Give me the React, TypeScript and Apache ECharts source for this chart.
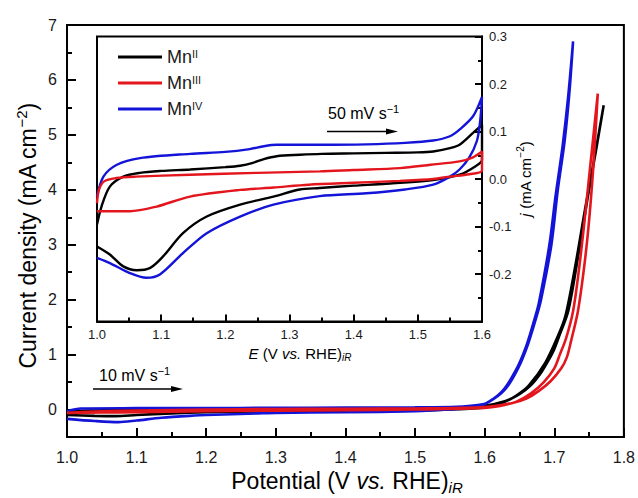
import React, { useEffect, useRef } from "react";
import * as echarts from "echarts";

const F = "Liberation Sans, Arial, sans-serif";
const TXT = "#1a1a1a";

const seriesNames = ["MnII", "MnIII", "MnIV"];
const seriesColors = ["#000000", "#e3161d", "#1414d8"];
const legendLabels: Record<string, string> = { MnII: "Mn{s|II}", MnIII: "Mn{s|III}", MnIV: "Mn{s|IV}" };

const mainYTicks = [0, 1, 2, 3, 4, 5, 6, 7];
const mainYMinorTicks = [-0.5, 0.5, 1.5, 2.5, 3.5, 4.5, 5.5, 6.5];

// Main CV (10 mV/s): [potential V, current mA cm-2], forward then reverse sweep
const mainMnII: [number, number][] = [
  [1.0, -0.05], [1.03, -0.02], [1.06, -0.01], [1.1, 0.0], [1.2, 0.005], [1.3, 0.01], [1.4, 0.015], [1.5, 0.02],
  [1.56, 0.035], [1.6, 0.07], [1.629, 0.15], [1.65, 0.28], [1.667, 0.45], [1.68, 0.65], [1.691, 0.88], [1.7, 1.1],
  [1.708, 1.37], [1.72, 1.79], [1.734, 2.77], [1.748, 3.86], [1.76, 4.72], [1.771, 5.54],
  [1.758, 4.6], [1.745, 3.7], [1.73, 2.6], [1.716, 1.7], [1.704, 1.3], [1.687, 0.85], [1.663, 0.43], [1.645, 0.25],
  [1.625, 0.12], [1.6, 0.04], [1.55, 0.0], [1.5, -0.02], [1.4, -0.025], [1.3, -0.03], [1.2, -0.05], [1.15, -0.07],
  [1.1, -0.1], [1.07, -0.12], [1.04, -0.115], [1.0, -0.1],
];
const mainMnIII: [number, number][] = [
  [1.0, -0.06], [1.05, -0.03], [1.1, -0.02], [1.2, 0.0], [1.3, 0.01], [1.4, 0.015], [1.5, 0.02], [1.6, 0.045],
  [1.64, 0.12], [1.66, 0.2], [1.677, 0.33], [1.695, 0.52], [1.71, 0.75], [1.718, 0.95], [1.724, 1.24], [1.734, 1.79],
  [1.742, 2.5], [1.749, 3.3], [1.756, 4.4], [1.7625, 5.75],
  [1.752, 4.47], [1.743, 3.38], [1.735, 2.5], [1.727, 1.79], [1.717, 1.3], [1.708, 1.0], [1.7, 0.75], [1.685, 0.5],
  [1.667, 0.3], [1.645, 0.14], [1.62, 0.06], [1.6, 0.03], [1.5, 0.0], [1.4, -0.01], [1.3, -0.02], [1.2, -0.03],
  [1.1, -0.05], [1.05, -0.055], [1.0, -0.06],
];
const mainMnIV: [number, number][] = [
  [1.0, -0.03], [1.02, 0.02], [1.1, 0.025], [1.2, 0.028], [1.3, 0.03], [1.4, 0.035], [1.5, 0.04], [1.56, 0.05],
  [1.59, 0.08], [1.605, 0.13], [1.629, 0.36], [1.648, 0.75], [1.662, 1.18], [1.674, 1.67], [1.681, 2.0], [1.696, 3.01],
  [1.705, 3.99], [1.715, 4.9], [1.722, 5.81], [1.727, 6.7],
  [1.72, 5.7], [1.712, 4.8], [1.702, 3.9], [1.693, 3.0], [1.678, 1.95], [1.671, 1.62], [1.659, 1.13], [1.645, 0.72],
  [1.625, 0.33], [1.6, 0.1], [1.58, 0.03], [1.55, 0.0], [1.5, -0.03], [1.4, -0.05], [1.3, -0.06], [1.274, -0.07],
  [1.2, -0.1], [1.183, -0.11], [1.136, -0.15], [1.1, -0.2], [1.074, -0.23], [1.04, -0.21], [1.0, -0.17],
];

// Inset CV (50 mV/s): [E V, j mA cm-2]
const insetMnII: [number, number][] = [
  [1.0, -0.096], [1.007, -0.058], [1.02, -0.016], [1.041, 0.005], [1.067, 0.013], [1.1, 0.017], [1.145, 0.02],
  [1.2, 0.025], [1.223, 0.028], [1.243, 0.034], [1.26, 0.042], [1.28, 0.048], [1.316, 0.051], [1.35, 0.053], [1.4, 0.054],
  [1.45, 0.055], [1.5, 0.056], [1.524, 0.058], [1.55, 0.065], [1.565, 0.072], [1.586, 0.097], [1.6, 0.114],
  [1.6, 0.04], [1.59, 0.027], [1.565, 0.009], [1.524, -0.002], [1.45, -0.01], [1.4, -0.014], [1.347, -0.019],
  [1.316, -0.022], [1.275, -0.037], [1.223, -0.054], [1.171, -0.079], [1.134, -0.114], [1.103, -0.163],
  [1.083, -0.187], [1.062, -0.192], [1.041, -0.184], [1.02, -0.159], [1.0, -0.142],
];
const insetMnIII: [number, number][] = [
  [1.0, -0.051], [1.003, -0.023], [1.011, -0.005], [1.03, 0.002], [1.06, 0.005], [1.145, 0.009], [1.25, 0.013],
  [1.347, 0.016], [1.4, 0.019], [1.472, 0.023], [1.52, 0.03], [1.565, 0.037], [1.585, 0.045], [1.6, 0.058],
  [1.6, 0.018], [1.58, 0.01], [1.55, 0.005], [1.524, 0.0], [1.472, -0.004], [1.4, -0.008], [1.33, -0.012],
  [1.275, -0.018], [1.223, -0.023], [1.145, -0.037], [1.093, -0.058], [1.051, -0.068], [1.0, -0.068],
];
const insetMnIV: [number, number][] = [
  [1.0, -0.037], [1.01, 0.005], [1.031, 0.03], [1.067, 0.044], [1.145, 0.053], [1.2, 0.057], [1.238, 0.063],
  [1.26, 0.069], [1.28, 0.072], [1.347, 0.072], [1.42, 0.073], [1.48, 0.076], [1.524, 0.081], [1.55, 0.09], [1.565, 0.104],
  [1.586, 0.132], [1.6, 0.173],
  [1.597, 0.12], [1.592, 0.08], [1.58, 0.045], [1.565, 0.02], [1.55, 0.005], [1.524, -0.012], [1.48, -0.022],
  [1.42, -0.03], [1.347, -0.036], [1.275, -0.054], [1.223, -0.079], [1.171, -0.114], [1.134, -0.156],
  [1.098, -0.201], [1.077, -0.208], [1.051, -0.198], [1.02, -0.177], [1.0, -0.166],
];

const mainData = [mainMnII, mainMnIII, mainMnIV];
const insetData = [insetMnII, insetMnIII, insetMnIV];

const richBig = {
  a: { fontSize: 23, fontFamily: F, color: TXT, lineHeight: 28 },
  i: { fontSize: 23, fontFamily: F, color: TXT, fontStyle: "italic", lineHeight: 28 },
  sub: { fontSize: 15, fontFamily: F, color: TXT, fontStyle: "italic", verticalAlign: "bottom" },
  sup: { fontSize: 15, fontFamily: F, color: TXT, verticalAlign: "top" },
};
const richSmall = {
  a: { fontSize: 15, fontFamily: F, color: TXT, lineHeight: 19 },
  i: { fontSize: 15, fontFamily: F, color: TXT, fontStyle: "italic", lineHeight: 19 },
  sub: { fontSize: 10, fontFamily: F, color: TXT, fontStyle: "italic", verticalAlign: "bottom" },
  sup: { fontSize: 10, fontFamily: F, color: TXT, verticalAlign: "top" },
};
const richNote = {
  a: { fontSize: 16, fontFamily: F, color: TXT, lineHeight: 20 },
  sup: { fontSize: 11, fontFamily: F, color: TXT, verticalAlign: "top" },
};

function arrow(x1: number, x2: number, y: number) {
  return [
    { type: "line", shape: { x1, y1: y, x2: x2 - 8, y2: y }, style: { stroke: "#000", lineWidth: 1.4 } },
    { type: "polygon", shape: { points: [[x2, y], [x2 - 12, y - 3], [x2 - 12, y + 3]] }, style: { fill: "#000" } },
  ];
}

export default function App() {
  const ref = useRef<HTMLDivElement>(null);
  useEffect(() => {
    if (!ref.current) return;
    const chart = echarts.init(ref.current, undefined, { renderer: "svg" });
    const axisLine = { show: true, onZero: false, lineStyle: { color: "#000", width: 2 } };
    const series: any[] = [];
    const order = [0, 2, 1];
    order.forEach((k) => {
      series.push({
        name: seriesNames[k], type: "line", xAxisIndex: 0, yAxisIndex: 0, data: mainData[k],
        showSymbol: false, symbol: "none", smooth: 0.3, color: seriesColors[k],
        lineStyle: { width: 2.6, color: seriesColors[k] },
      });
    });
    order.forEach((k) => {
      series.push({
        name: seriesNames[k], type: "line", xAxisIndex: 1, yAxisIndex: 2, data: insetData[k],
        showSymbol: false, symbol: "none", smooth: 0.3, color: seriesColors[k],
        lineStyle: { width: 2.4, color: seriesColors[k] },
      });
    });
    chart.setOption({
      animation: false,
      backgroundColor: "#fff",
      grid: [
        { left: 67, top: 25, width: 559, height: 412, show: true, borderColor: "#000", borderWidth: 2, backgroundColor: "transparent" },
        { left: 97, top: 36.5, width: 385, height: 285, show: true, borderColor: "#000", borderWidth: 2, backgroundColor: "#fff" },
      ],
      legend: {
        data: seriesNames, orient: "vertical", left: 113, top: 43, itemWidth: 44, itemHeight: 3, itemGap: 8,
        icon: "rect", formatter: (n: string) => legendLabels[n],
        textStyle: {
          fontSize: 18, fontFamily: F, color: TXT,
          rich: { s: { fontSize: 11, fontFamily: F, color: TXT, verticalAlign: "top" } },
        },
      },
      xAxis: [
        {
          gridIndex: 0, type: "value", min: 1.0, max: 1.8, interval: 0.1, axisLine,
          axisTick: { inside: true, length: 9, lineStyle: { color: "#000", width: 2 } },
          minorTick: { show: true, splitNumber: 2, length: 5, lineStyle: { color: "#000", width: 2 } },
          axisLabel: { formatter: (v: number) => v.toFixed(1), fontSize: 16, fontFamily: F, color: TXT, margin: 12 },
          splitLine: { show: false }, minorSplitLine: { show: false },
        },
        {
          gridIndex: 1, type: "value", min: 1.0, max: 1.6, interval: 0.1, axisLine,
          axisTick: { inside: true, length: 7, lineStyle: { color: "#000", width: 2 } },
          minorTick: { show: true, splitNumber: 2, length: 4, lineStyle: { color: "#000", width: 2 } },
          axisLabel: { formatter: (v: number) => v.toFixed(1), fontSize: 13, fontFamily: F, color: TXT, margin: 6 },
          splitLine: { show: false },
        },
      ],
      yAxis: [
        {
          gridIndex: 0, type: "value", position: "left", min: -0.5, max: 7, interval: 0.5, axisLine,
          axisTick: { inside: true, length: 9, lineStyle: { color: "#000", width: 2 }, customValues: mainYTicks },
          axisLabel: {
            customValues: mainYTicks, fontSize: 16, fontFamily: F, color: TXT, margin: 10,
            formatter: (v: number) => (Number.isInteger(v) ? String(v) : ""),
          },
          splitLine: { show: false },
        },
        {
          gridIndex: 0, type: "value", position: "left", min: -0.5, max: 7, interval: 0.5,
          axisLine: { show: false, onZero: false },
          axisTick: { inside: true, length: 5, lineStyle: { color: "#000", width: 2 }, customValues: mainYMinorTicks },
          axisLabel: { show: false }, splitLine: { show: false },
        },
        {
          gridIndex: 1, type: "value", position: "right", min: -0.3, max: 0.3, interval: 0.1, axisLine,
          axisTick: { inside: true, length: 7, lineStyle: { color: "#000", width: 2 } },
          minorTick: { show: true, splitNumber: 2, length: 4, lineStyle: { color: "#000", width: 2 } },
          axisLabel: {
            fontSize: 13, fontFamily: F, color: TXT, margin: 7,
            formatter: (v: number) => (Math.abs(v + 0.3) < 1e-6 ? "" : v.toFixed(1)),
          },
          splitLine: { show: false },
        },
      ],
      graphic: [
        {
          type: "text", x: 347, y: 481,
          style: { text: "{a|Potential (V }{i|vs.}{a| RHE)}{sub|iR}", rich: richBig, align: "center", verticalAlign: "middle" },
        },
        {
          type: "text", x: 28, y: 236, rotation: Math.PI / 2,
          style: { text: "{a|Current density (mA cm}{sup|−2}{a|)}", rich: richBig, align: "center", verticalAlign: "middle" },
        },
        {
          type: "text", x: 300, y: 353,
          style: { text: "{i|E}{a| (V }{i|vs.}{a| RHE)}{sub|iR}", rich: richSmall, align: "center", verticalAlign: "middle" },
        },
        {
          type: "text", x: 525, y: 179, rotation: Math.PI / 2,
          style: { text: "{i|j}{a| (mA cm}{sup|−2}{a|)}", rich: richSmall, align: "center", verticalAlign: "middle" },
        },
        {
          type: "text", x: 99, y: 375,
          style: { text: "{a|10 mV s}{sup|−1}", rich: richNote, align: "left", verticalAlign: "middle" },
        },
        {
          type: "text", x: 328, y: 113,
          style: { text: "{a|50 mV s}{sup|−1}", rich: richNote, align: "left", verticalAlign: "middle" },
        },
        ...arrow(93, 183, 389),
        ...arrow(327, 398, 131.5),
      ],
      series,
    });
    return () => chart.dispose();
  }, []);
  return <div ref={ref} style={{ position: "fixed", left: 0, top: 0, width: 638, height: 498, background: "#fff" }} />;
}
